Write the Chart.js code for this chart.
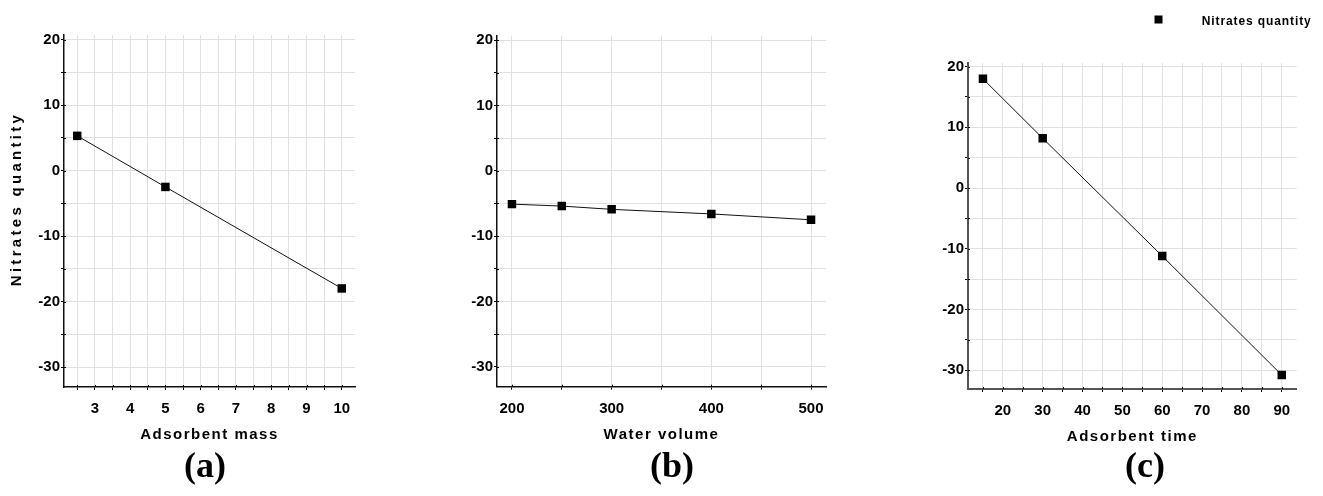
<!DOCTYPE html>
<html>
<head>
<meta charset="utf-8">
<title>Nitrates quantity</title>
<script src="https://cdn.jsdelivr.net/npm/chart.js@4.4.1/dist/chart.umd.min.js"></script>
<style>
  html, body { margin: 0; padding: 0; background: #fff; }
  body { width: 1323px; height: 496px; position: relative; overflow: hidden; }
  canvas { position: absolute; top: 0; }
</style>
</head>
<body>
<canvas id="massChart" width="390" height="496" style="left:0px"></canvas>
<canvas id="volumeChart" width="420" height="496" style="left:430px"></canvas>
<canvas id="timeChart" width="423" height="496" style="left:900px"></canvas>
<script>
// values
const seriesLabel = 'Nitrates quantity';

const massX = [2.5, 5, 10];
const massY = [5.3, -2.5, -18];

const volumeX = [200, 250, 300, 400, 500];
const volumeY = [-5.1, -5.4, -5.9, -6.6, -7.5];

const timeX = [15, 30, 60, 90];
const timeY = [18, 8.2, -11.2, -30.8];

const xTitles = ['Adsorbent mass', 'Water volume', 'Adsorbent time'];
const panelTags = ['(a)', '(b)', '(c)'];

// axis ranges and tick steps: [min, max, minor step, labelled step]
const massRange = [2.125, 10.375, 0.5, 1];
const volumeRange = [185, 515, 50, 100];
const timeRange = [11.25, 93.75, 5, 10];
const yRange = [-33.05, 20.7, 5, 10];

const SANS = '"Liberation Sans", Arial, Helvetica, sans-serif';
const SERIF = '"Liberation Serif", "Times New Roman", serif';
Chart.defaults.font.family = SANS;
Chart.defaults.color = '#000';

// axis titles are drawn with wider letter spacing
const titleSpacing = {
  id: 'titleSpacing',
  beforeDraw(chart, args, opts) {
    Object.keys(chart.scales).forEach(id => {
      const scale = chart.scales[id];
      if (scale._spaced) return;
      const orig = scale.drawTitle;
      scale.drawTitle = function () {
        const ctx = this.ctx;
        ctx.save();
        ctx.letterSpacing = (opts[id] || 0) + 'px';
        if (id === 'y' && opts.yShift) ctx.translate(0, opts.yShift);
        orig.call(this);
        ctx.restore();
      };
      scale._spaced = true;
    });
  }
};

// tick marks poke a couple of pixels inside the plot too
const innerTicks = {
  id: 'innerTicks',
  beforeDatasetsDraw(chart) {
    const { ctx, chartArea, scales } = chart;
    ctx.save();
    ctx.strokeStyle = '#000';
    ctx.lineWidth = 1;
    ctx.beginPath();
    scales.x.ticks.forEach(t => {
      const px = Math.round(scales.x.getPixelForValue(t.value)) + 0.5;
      ctx.moveTo(px, chartArea.bottom);
      ctx.lineTo(px, chartArea.bottom - 2);
    });
    scales.y.ticks.forEach(t => {
      const py = Math.round(scales.y.getPixelForValue(t.value)) + 0.5;
      ctx.moveTo(chartArea.left, py);
      ctx.lineTo(chartArea.left + 2, py);
    });
    ctx.stroke();
    ctx.restore();
  }
};

// single-entry legend in the top right corner
const cornerLegend = {
  id: 'cornerLegend',
  afterDraw(chart, args, opts) {
    if (!opts.display) return;
    const ds = chart.data.datasets[0];
    const ctx = chart.ctx;
    ctx.save();
    ctx.fillStyle = ds.pointBackgroundColor;
    ctx.fillRect(opts.x - 4, opts.y - 4, 8, 8);
    ctx.font = 'bold 12px ' + SANS;
    ctx.letterSpacing = '0.9px';
    ctx.fillStyle = '#000';
    ctx.textBaseline = 'middle';
    ctx.textAlign = 'left';
    ctx.fillText(ds.label, opts.textX, opts.y + 2);
    ctx.restore();
  }
};

// "(a)", "(b)", "(c)" caption under each panel
const panelTag = {
  id: 'panelTag',
  afterDraw(chart, args, opts) {
    const ctx = chart.ctx;
    ctx.save();
    ctx.font = 'bold 36px ' + SERIF;
    ctx.fillStyle = '#000';
    ctx.textAlign = 'center';
    ctx.textBaseline = 'middle';
    ctx.fillText(opts.text, opts.x, opts.y);
    ctx.restore();
  }
};

function makePanel(id, xs, ys, xr, p) {
  const points = xs.map((x, i) => ({ x: x, y: ys[i] }));
  return new Chart(document.getElementById(id), {
    type: 'line',
    data: {
      datasets: [{
        label: seriesLabel,
        data: points,
        borderColor: '#111',
        borderWidth: 1,
        pointStyle: 'rect',
        pointRadius: 6,
        pointBackgroundColor: '#000',
        pointBorderWidth: 0,
        tension: 0
      }]
    },
    options: {
      responsive: false,
      animation: false,
      devicePixelRatio: 1,
      layout: { padding: { top: p.top, right: p.right, left: 0, bottom: 48.8 } },
      plugins: {
        legend: { display: false },
        tooltip: { enabled: false },
        titleSpacing: { x: 1.5, y: 3.3, yShift: -12 },
        cornerLegend: p.legend || { display: false },
        panelTag: { text: p.tag, x: p.tagX, y: 468 }
      },
      scales: {
        x: {
          type: 'linear',
          min: xr[0],
          max: xr[1],
          afterFit: s => { s.height = p.xh; },
          grid: { color: '#e0e0e0', lineWidth: 1, tickColor: '#000', tickLength: 3 },
          border: { color: p.axis, width: p.axisW },
          ticks: {
            stepSize: xr[2],
            includeBounds: false,
            autoSkip: false,
            maxRotation: 0,
            padding: 10,
            font: { size: 15, weight: 'bold' },
            callback: v => (Math.abs(v / xr[3] - Math.round(v / xr[3])) < 1e-6 ? v : '')
          },
          title: {
            display: true,
            text: p.xTitle,
            font: { size: 15, weight: 'bold', lineHeight: 1.2 },
            padding: { top: 0, bottom: p.xtPad }
          }
        },
        y: {
          type: 'linear',
          min: p.yMin,
          max: p.yMax,
          afterFit: s => { s.width = p.yw; },
          grid: { color: '#e0e0e0', lineWidth: 1, tickColor: '#000', tickLength: 3 },
          border: { color: p.axis, width: p.axisW },
          ticks: {
            stepSize: yRange[2],
            includeBounds: false,
            autoSkip: false,
            padding: 1,
            font: { size: 15, weight: 'bold' },
            callback: v => (v % yRange[3] === 0 ? v : '')
          },
          title: {
            display: !!p.yTitle,
            text: p.yTitle || '',
            font: { size: 15, weight: 'bold', lineHeight: 1.2 },
            padding: { top: 8, bottom: 0 }
          }
        }
      }
    },
    plugins: [titleSpacing, innerTicks, cornerLegend, panelTag]
  });
}

makePanel('massChart', massX, massY, massRange, {
  top: 35, right: 35, yw: 64, xh: 60.2, xtPad: 3,
  yMin: yRange[0], yMax: yRange[1],
  axis: '#111', axisW: 1.5,
  xTitle: xTitles[0], yTitle: seriesLabel, tag: panelTags[0], tagX: 205
});

makePanel('volumeChart', volumeX, volumeY, volumeRange, {
  top: 35.6, right: 24, yw: 67, xh: 60.5, xtPad: 3,
  yMin: yRange[0], yMax: yRange[1],
  axis: '#111', axisW: 1.5,
  xTitle: xTitles[1], tag: panelTags[1], tagX: 242
});

makePanel('timeChart', timeX, timeY, timeRange, {
  top: 63, right: 26.3, yw: 68, xh: 58.2, xtPad: 1,
  yMin: -33.1, yMax: 20.6,
  axis: '#555', axisW: 2,
  xTitle: xTitles[2], tag: panelTags[2], tagX: 245,
  legend: { display: true, x: 258.5, y: 19.5, textX: 301.7 }
});
</script>
</body>
</html>
